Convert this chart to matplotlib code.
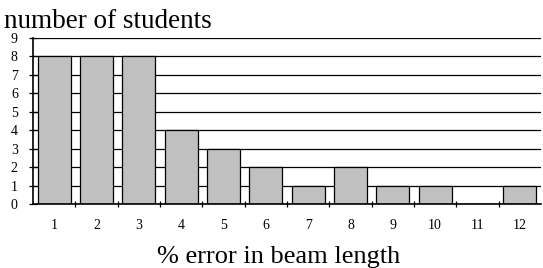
import numpy as np
import matplotlib.pyplot as plt

plt.rcParams['font.family'] = ['Liberation Serif', 'DejaVu Serif']

categories = ["1", "2", "3", "4", "5", "6", "7", "8", "9", "10", "11", "12"]
students = [8, 8, 8, 4, 3, 2, 1, 2, 1, 1, 0, 1]

fig = plt.figure(figsize=(5.43, 2.68), dpi=100)
ax = fig.add_axes([0.061, 0.239, 0.935, 0.619])

x = np.arange(len(categories))
ax.set_axisbelow(True)
ax.yaxis.grid(True, color='black', linewidth=0.9)
ax.bar(x, students, width=0.78, color='#c0c0c0', edgecolor='black', linewidth=0.9)

ax.set_xlim(-0.5, len(categories) - 0.5)
ax.set_ylim(0, 9)
ax.set_yticks(range(0, 10))
ax.set_xticks(x)
ax.set_xticklabels(categories, fontsize=10)
ax.tick_params(axis='x', length=0, pad=10.5)
ax.set_xticks(np.arange(0.5, len(categories) - 0.5), minor=True)
ax.tick_params(axis='x', which='minor', length=5, width=0.9, direction='inout')
ax.tick_params(axis='y', labelsize=10, length=6, width=0.9, direction='inout', pad=8)

for s in ['top', 'right']:
    ax.spines[s].set_visible(False)
ax.spines['left'].set_linewidth(1.2)
ax.spines['bottom'].set_linewidth(1.2)

fig.text(0.007, 0.896, "number of students", fontsize=19.5, va='baseline')
fig.text(0.514, 0.019, "% error in beam length", fontsize=19, ha='center', va='baseline')

fig.savefig("out.png", dpi=100)
